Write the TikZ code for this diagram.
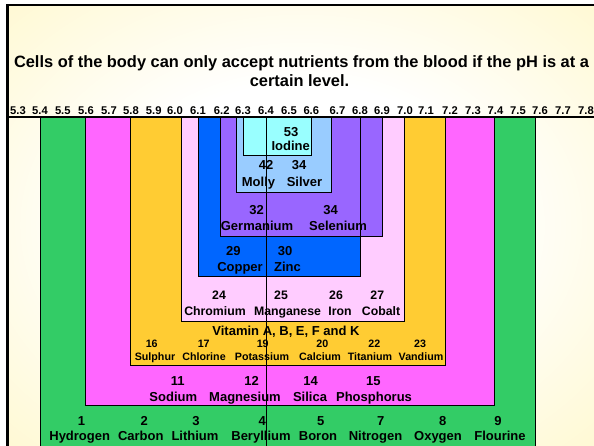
\documentclass[tikz,border=0pt]{standalone}
\usepackage{fontspec}
\setmainfont{Liberation Sans}
\definecolor{cGreen}{HTML}{33CC66}
\definecolor{cMag}{HTML}{FF66FF}
\definecolor{cYel}{HTML}{FFCC33}
\definecolor{cPink}{HTML}{FFCCFF}
\definecolor{cBlue}{HTML}{0066FF}
\definecolor{cPurp}{HTML}{9966FF}
\definecolor{cLBlue}{HTML}{99CCFF}
\definecolor{cCyan}{HTML}{99FFFF}
\definecolor{bgY}{RGB}{255,246,192}
\pgfdeclareradialshading{slidebg}{\pgfpoint{0bp}{0bp}}{color(0bp)=(white); color(16bp)=(white); color(36bp)=(bgY!70!white); color(50bp)=(bgY)}
\tikzset{
  box/.style={draw=black, line width=0.9pt},
  lbl/.style={inner sep=0pt, anchor=base, text=black, font=\bfseries\fontsize{13}{13}\selectfont},
  lblm/.style={lbl, font=\bfseries\fontsize{12.3}{12.3}\selectfont},
  lbls/.style={lbl, font=\bfseries\fontsize{10.7}{10.7}\selectfont},
  tick/.style={lbl, font=\bfseries\fontsize{11.2}{11.2}\selectfont},
  ttl/.style={lbl, font=\bfseries\fontsize{16.4}{16.4}\selectfont},
}
\begin{document}
\begin{tikzpicture}[x=1pt,y=-1pt]
\useasboundingbox (0,0) rectangle (594,445);
\clip (0,0) rectangle (594,445);
% slide background
\fill[white] (0,0) rectangle (594,445);
\shade[shading=slidebg] (7.5,5) rectangle (594,445);
% frame
\draw[line width=2pt] (6,5) -- (594,5);
\draw[line width=3pt] (7.5,4) -- (7.5,446);
% title
\node[ttl] (title1) at (301.5,67.7) {Cells of the body can only accept nutrients from the blood if the pH is at a};
\node[ttl] (title2) at (299.5,86.7) {certain level.};
% pH scale labels
\foreach \v/\x [count=\i] in {5.3/18,5.4/40,5.5/62.8,5.6/86,5.7/109,5.8/131,5.9/153.7,6.0/175,6.1/198,6.2/221.7,6.3/243,6.4/266,6.5/289,6.6/311.3,6.7/337.5,6.8/360,6.9/382,7.0/405,7.1/426,7.2/450,7.3/473,7.4/495.5,7.5/518,7.6/540,7.7/563,7.8/586}
  \node[tick] (tk\i) at (\x,114.3) {\v};
% nested ranges
\filldraw[box, fill=cGreen] (40.7,117) rectangle (535.8,447);
\filldraw[box, fill=cMag] (85.7,117) rectangle (494.3,405);
\filldraw[box, fill=cYel] (130,117) rectangle (445.3,365.7);
\filldraw[box, fill=cPink] (181.7,117) rectangle (404.3,321.7);
\filldraw[box, fill=cBlue] (198,117) rectangle (360.3,276);
\filldraw[box, fill=cPurp] (220.3,117) rectangle (382.5,236);
\draw[box] (198,117) rectangle (360.3,276);
\filldraw[box, fill=cLBlue] (236.7,117) rectangle (331,192);
\filldraw[box, fill=cCyan] (243.3,117) rectangle (311,155.7);
% axis
\draw[line width=1.2pt] (9,117) -- (594,117);
% labels
\node[lbl] (n53) at (291,136) {53};
\node[lbl] (iodine) at (290.7,150.7) {Iodine};
\node[lbl] (n42) at (266,169.3) {42};
\node[lbl] (n34a) at (299,169.3) {34};
\node[lbl] (molly) at (258.5,186.7) {Molly};
\node[lbl] (silver) at (304.5,186.7) {Silver};
\node[lbl] (n32) at (256.7,214.3) {32};
\node[lbl] (n34b) at (330.7,214.3) {34};
\node[lbl] (germanium) at (257,230) {Germanium};
\node[lbl] (selenium) at (338,230) {Selenium};
\node[lbl] (n29) at (233.3,255.3) {29};
\node[lbl] (n30) at (285,255.3) {30};
\node[lbl] (copper) at (240,271) {Copper};
\node[lbl] (zinc) at (287.5,271) {Zinc};
\node[lblm] (n24) at (219,299.3) {24};
\node[lblm] (n25) at (281,299.3) {25};
\node[lblm] (n26) at (336,299.3) {26};
\node[lblm] (n27) at (377.3,299.3) {27};
\node[lblm] (chromium) at (215,315) {Chromium};
\node[lblm] (manganese) at (287.5,315) {Manganese};
\node[lblm] (iron) at (340,315) {Iron};
\node[lblm] (cobalt) at (381,315) {Cobalt};
\node[lbl] (vitamin) at (286,335) {Vitamin A, B, E, F and K};
\node[lbls] (n16) at (151.7,347.3) {16};
\node[lbls] (n17) at (203.7,347.3) {17};
\node[lbls] (n19) at (262.7,347.3) {19};
\node[lbls] (n20) at (322.3,347.3) {20};
\node[lbls] (n22) at (374.3,347.3) {22};
\node[lbls] (n23) at (420,347.3) {23};
\node[lbls] (sulphur) at (155,360) {Sulphur};
\node[lbls] (chlorine) at (204,360) {Chlorine};
\node[lbls] (potassium) at (262,360) {Potassium};
\node[lbls] (calcium) at (320,360) {Calcium};
\node[lbls] (titanium) at (370,360) {Titanium};
\node[lbls] (vandium) at (421,360) {Vandium};
\node[lbl] (n11) at (177.7,385.7) {11};
\node[lbl] (n12) at (251.7,385.7) {12};
\node[lbl] (n14) at (310.7,385.7) {14};
\node[lbl] (n15) at (373.3,385.7) {15};
\node[lbl] (sodium) at (173.3,401) {Sodium};
\node[lbl] (magnesium) at (245,401) {Magnesium};
\node[lbl] (silica) at (310,401) {Silica};
\node[lbl] (phosphorus) at (374,401) {Phosphorus};
\node[lbl] (n1) at (81.5,425) {1};
\node[lbl] (n2) at (144.3,425) {2};
\node[lbl] (n3) at (196,425) {3};
\node[lbl] (n4) at (262.3,425) {4};
\node[lbl] (n5) at (320.7,425) {5};
\node[lbl] (n7) at (380.7,425) {7};
\node[lbl] (n8) at (442.7,425) {8};
\node[lbl] (n9) at (498,425) {9};
\node[lbl] (hydrogen) at (79.7,440.7) {Hydrogen};
\node[lbl] (carbon) at (140.8,440.7) {Carbon};
\node[lbl] (lithium) at (195,440.7) {Lithium};
\node[lbl] (beryllium) at (261,440.7) {Beryllium};
\node[lbl] (boron) at (318,440.7) {Boron};
\node[lbl] (nitrogen) at (375.5,440.7) {Nitrogen};
\node[lbl] (oxygen) at (438,440.7) {Oxygen};
\node[lbl] (flourine) at (500,440.7) {Flourine};
% pH 6.4 marker line
\coordinate (mtop) at (266.3,117);
\coordinate (mbot) at (266.3,446);
\draw[line width=1pt] (mtop) -- (mbot);
\end{tikzpicture}
\end{document}
